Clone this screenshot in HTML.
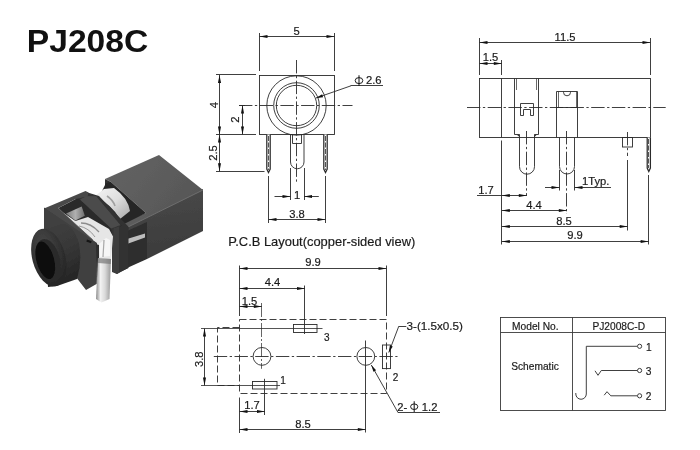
<!DOCTYPE html>
<html><head><meta charset="utf-8"><title>PJ208C</title>
<style>
html,body{margin:0;padding:0;background:#fff;}
body{width:700px;height:450px;overflow:hidden;}
svg{display:block;filter:grayscale(1);}
svg text{font-family:"Liberation Sans",sans-serif;}
</style></head><body>
<svg width="700" height="450" viewBox="0 0 700 450">
<rect width="700" height="450" fill="#fff"/>
<defs>
<linearGradient id="gTop" x1="0" y1="0" x2="1" y2="0.6"><stop offset="0" stop-color="#646464"/><stop offset="1" stop-color="#565656"/></linearGradient>
<linearGradient id="gSide" x1="0" y1="0" x2="0.15" y2="1"><stop offset="0" stop-color="#4a4a4a"/><stop offset="1" stop-color="#393939"/></linearGradient>
<linearGradient id="gLeg" x1="0" y1="0" x2="1" y2="0"><stop offset="0" stop-color="#8a8a8a"/><stop offset="0.3" stop-color="#f2f2f2"/><stop offset="0.6" stop-color="#dadada"/><stop offset="1" stop-color="#9a9a9a"/></linearGradient>
<linearGradient id="gSpring" x1="0" y1="0" x2="1" y2="1"><stop offset="0" stop-color="#f4f4f4"/><stop offset="0.5" stop-color="#dedede"/><stop offset="1" stop-color="#a8a8a8"/></linearGradient>
<linearGradient id="gWall" x1="0" y1="0" x2="1" y2="0"><stop offset="0" stop-color="#7a7a7a"/><stop offset="0.5" stop-color="#b0b0b0"/><stop offset="1" stop-color="#6e6e6e"/></linearGradient>
<linearGradient id="gBody" x1="0" y1="0" x2="0.3" y2="1"><stop offset="0" stop-color="#404040"/><stop offset="0.5" stop-color="#383838"/><stop offset="1" stop-color="#262626"/></linearGradient>
<radialGradient id="gBarrel" cx="0.45" cy="0.3" r="0.8"><stop offset="0" stop-color="#4a4a4a"/><stop offset="1" stop-color="#1f1f1f"/></radialGradient>
<filter id="fb" x="-5%" y="-5%" width="110%" height="110%"><feGaussianBlur stdDeviation="0.5"/></filter>
</defs>
<g filter="url(#fb)">
<!-- back block side face -->
<polygon points="112,230 203,189 203,231 147,259 147,246 128,255 128,268 117,274 112,272" fill="url(#gSide)"/>
<!-- slot interior -->
<polygon points="127,231 147,222 147,259 127,268" fill="#2d2d2d"/>
<polygon points="127,239 145,233.5 145,237.5 127,244" fill="#bdbdbd"/>
<!-- back block top face -->
<polygon points="105,179 159,155 203,190 128,227 122,222 146,213 111,182" fill="url(#gTop)"/>
<path d="M203,190 L128,227" stroke="#707070" stroke-width="0.9" fill="none"/>
<!-- block left face strip -->
<polygon points="105,179 111,182 111,190 105,187" fill="#333"/>
<!-- cutout dark -->
<polygon points="106,183 111,182 146,213 124,224 98,199" fill="#262626"/>
<!-- spring -->
<path d="M95,196 L104,189 L114,188 Q128,198 130,211 L120,219 Q112,205 95,196 Z" fill="url(#gSpring)"/>
<path d="M107,196 Q113,200 115,206" fill="none" stroke="#a0a0a0" stroke-width="1.6"/>
<!-- frame window interior -->
<polygon points="75,198 86,192 99,196 128.5,227 128,232 112,236" fill="#343434"/>
<polygon points="58.3,208 76.2,198.7 80,199.4 111.2,228 112,234 92,240" fill="#2b2b2b"/>
<polygon points="66.1,213.4 81.7,206.4 84.8,215.8 75.4,220.4" fill="url(#gWall)"/>
<polygon points="63,212.5 75.4,221 88,217 109,229 113,236.6 111,259.7 98.7,259.7 97,243.7 91.6,238.4" fill="#e6e6e6"/>
<path d="M81,223 Q91,223 99,232" fill="none" stroke="#8c8c8c" stroke-width="1.3"/>
<path d="M79,226 Q89,228 95,237" fill="none" stroke="#9a9a9a" stroke-width="1"/>
<polygon points="99,244 106,238 110,240 110,256 100,257" fill="#f6f6f6"/>
<path d="M104,240 L103,257" stroke="#a8a8a8" stroke-width="1.2" fill="none"/>
<!-- frame top-left bar -->
<polygon points="44,208.5 85.5,190.9 88.5,192.5 87.5,196.5 76.2,198.7 58.3,208 92,239.5 97,243.7 96,246" fill="#4a4a4a"/>
<!-- frame right diagonal bar -->
<polygon points="80,199.4 86.3,196.3 96.4,196.3 120.5,225 111.2,228.5" fill="#4c4c4c"/>
<polygon points="96.4,196.3 99,197.5 124.5,223 120.5,225" fill="#333"/>
<!-- front face -->
<polygon points="44,207.5 97,243 96.5,284 86,290 76,277 60,250 44,234" fill="#404040"/>
<polygon points="96,244 99,245 99,283 96.5,284" fill="#2e2e2e"/>
<rect x="87" y="239.5" width="5" height="2.2" fill="#161616" transform="rotate(20 87 239.5)"/>
<!-- middle vertical bar -->
<polygon points="113.5,228.5 119.3,226.5 119.3,272.5 117,274 113.5,272" fill="#3e3e3e"/>
<polygon points="119,227 124,222.5 128.5,227 128.5,268 119,272.5" fill="#303030"/>
<!-- leg -->
<polygon points="98,258 111,259 109.5,299 101.5,302.5 96,299" fill="url(#gLeg)"/>
<polygon points="98,258 111,259 110.8,264 98,263" fill="#777" opacity="0.7"/>
<!-- barrel body -->
<path d="M44,229.5 L63,223.5 Q74,226 79,243 Q82.5,262 77,279 L57,286 L48,287 Z" fill="url(#gBody)"/>
<!-- barrel ring -->
<ellipse cx="48.8" cy="257.5" rx="16.5" ry="29.5" fill="url(#gBarrel)" transform="rotate(-15 48.8 257.5)"/>
<ellipse cx="48" cy="259.5" rx="11.8" ry="21" fill="#2c2c2c" transform="rotate(-15 48 259.5)"/>
<ellipse cx="45.3" cy="260.3" rx="8.8" ry="19.3" fill="#0e0e0e" transform="rotate(-15 45.3 260.3)"/>
</g>

<text x="26.8" y="52.3" font-size="31.6" text-anchor="start" font-weight="bold" fill="#111" stroke="#111" stroke-width="0" textLength="121.5" lengthAdjust="spacingAndGlyphs">PJ208C</text>
<rect x="259.5" y="75.5" width="75.0" height="59.0" fill="none" stroke="#2a2a2a" stroke-width="0.9"/>
<circle cx="296.5" cy="105.5" r="29.7" fill="none" stroke="#2a2a2a" stroke-width="0.9"/>
<circle cx="296.5" cy="105.5" r="22.8" fill="none" stroke="#2a2a2a" stroke-width="0.9"/>
<circle cx="296.5" cy="105.5" r="20.2" fill="none" stroke="#2a2a2a" stroke-width="0.9"/>
<line x1="239" y1="105.5" x2="352.5" y2="105.5" stroke="#2a2a2a" stroke-width="0.9" stroke-dasharray="13.4 2.5 2.3 2.5"/>
<line x1="296.5" y1="60" x2="296.5" y2="182.5" stroke="#2a2a2a" stroke-width="0.9" stroke-dasharray="13.4 2.5 2.3 2.5"/>
<line x1="259.5" y1="33" x2="259.5" y2="71" stroke="#2a2a2a" stroke-width="0.9"/>
<line x1="334.5" y1="33" x2="334.5" y2="71" stroke="#2a2a2a" stroke-width="0.9"/>
<line x1="259.5" y1="36.5" x2="334.5" y2="36.5" stroke="#2a2a2a" stroke-width="0.9"/>
<polygon points="259.50,36.50 267.50,34.95 267.50,38.05" fill="#111"/>
<polygon points="334.50,36.50 326.50,38.05 326.50,34.95" fill="#111"/>
<text x="296.5" y="34.5" font-size="11.2" text-anchor="middle" font-weight="normal" fill="#1a1a1a" stroke="#1a1a1a" stroke-width="0.18">5</text>
<line x1="216" y1="74.5" x2="256" y2="74.5" stroke="#2a2a2a" stroke-width="0.9"/>
<line x1="216" y1="134.5" x2="256" y2="134.5" stroke="#2a2a2a" stroke-width="0.9"/>
<line x1="216" y1="171.5" x2="264.5" y2="171.5" stroke="#2a2a2a" stroke-width="0.9"/>
<line x1="219.5" y1="75" x2="219.5" y2="134.5" stroke="#2a2a2a" stroke-width="0.9"/>
<polygon points="219.50,75.00 221.05,83.00 217.95,83.00" fill="#111"/>
<polygon points="219.50,134.50 217.95,126.50 221.05,126.50" fill="#111"/>
<line x1="219.5" y1="134.5" x2="219.5" y2="171.3" stroke="#2a2a2a" stroke-width="0.9"/>
<polygon points="219.50,134.50 221.05,142.50 217.95,142.50" fill="#111"/>
<polygon points="219.50,171.30 217.95,163.30 221.05,163.30" fill="#111"/>
<text x="217.5" y="105" font-size="11.2" text-anchor="middle" font-weight="normal" fill="#1a1a1a" stroke="#1a1a1a" stroke-width="0.18" transform="rotate(-90 217.5 105)">4</text>
<text x="217" y="153" font-size="11.2" text-anchor="middle" font-weight="normal" fill="#1a1a1a" stroke="#1a1a1a" stroke-width="0.18" transform="rotate(-90 217 153)">2.5</text>
<line x1="239" y1="105.5" x2="245" y2="105.5" stroke="#2a2a2a" stroke-width="0.9"/>
<line x1="242.5" y1="105.5" x2="242.5" y2="134.5" stroke="#2a2a2a" stroke-width="0.9"/>
<polygon points="242.50,105.50 244.05,113.50 240.95,113.50" fill="#111"/>
<polygon points="242.50,134.50 240.95,126.50 244.05,126.50" fill="#111"/>
<text x="238.5" y="119.5" font-size="11.2" text-anchor="middle" font-weight="normal" fill="#1a1a1a" stroke="#1a1a1a" stroke-width="0.18" transform="rotate(-90 238.5 119.5)">2</text>
<line x1="316" y1="98" x2="351" y2="85.8" stroke="#2a2a2a" stroke-width="0.9"/>
<line x1="350.7" y1="85.5" x2="383" y2="85.5" stroke="#2a2a2a" stroke-width="0.9"/>
<polygon points="316.00,98.00 322.11,94.26 323.12,97.19" fill="#111"/>
<ellipse cx="359" cy="80.6" rx="3.8" ry="3.0" fill="none" stroke="#1a1a1a" stroke-width="1"/>
<line x1="359" y1="75.19999999999999" x2="359" y2="86.0" stroke="#1a1a1a" stroke-width="1.05"/>
<text x="366" y="84.4" font-size="11.2" text-anchor="start" font-weight="normal" fill="#1a1a1a" stroke="#1a1a1a" stroke-width="0.18">2.6</text>
<path d="M266.8,134.5 V169 L268.5,172.5 L270.2,169 V134.5" fill="#fff" stroke="#2a2a2a" stroke-width="1.25"/>
<line x1="268.5" y1="136" x2="268.5" y2="170" stroke="#2a2a2a" stroke-width="0.8" stroke-dasharray="5 1.5"/>
<line x1="268.5" y1="176" x2="268.5" y2="223" stroke="#2a2a2a" stroke-width="0.9"/>
<path d="M323.8,134.5 V169 L325.5,172.5 L327.2,169 V134.5" fill="#fff" stroke="#2a2a2a" stroke-width="1.25"/>
<line x1="325.5" y1="136" x2="325.5" y2="170" stroke="#2a2a2a" stroke-width="0.8" stroke-dasharray="5 1.5"/>
<line x1="325.5" y1="176" x2="325.5" y2="223" stroke="#2a2a2a" stroke-width="0.9"/>
<path d="M290.5,134.5 V162 A6.75,6.75 0 0 0 304,162 V134.5" fill="none" stroke="#2a2a2a" stroke-width="0.9"/>
<path d="M292.5,134.5 V143.5 H301.5 V134.5" fill="none" stroke="#2a2a2a" stroke-width="0.9"/>
<line x1="290.5" y1="168" x2="290.5" y2="200" stroke="#2a2a2a" stroke-width="0.9"/>
<line x1="304.5" y1="168" x2="304.5" y2="200" stroke="#2a2a2a" stroke-width="0.9"/>
<line x1="274.5" y1="196.5" x2="290.5" y2="196.5" stroke="#2a2a2a" stroke-width="0.9"/>
<line x1="304" y1="196.5" x2="318.8" y2="196.5" stroke="#2a2a2a" stroke-width="0.9"/>
<polygon points="290.50,196.50 282.50,198.05 282.50,194.95" fill="#111"/>
<polygon points="304.00,196.50 312.00,194.95 312.00,198.05" fill="#111"/>
<text x="297" y="198.5" font-size="11.2" text-anchor="middle" font-weight="normal" fill="#1a1a1a" stroke="#1a1a1a" stroke-width="0.18">1</text>
<line x1="268.5" y1="219.5" x2="325.5" y2="219.5" stroke="#2a2a2a" stroke-width="0.9"/>
<polygon points="268.50,219.50 276.50,217.95 276.50,221.05" fill="#111"/>
<polygon points="325.50,219.50 317.50,221.05 317.50,217.95" fill="#111"/>
<text x="297" y="217.5" font-size="11.2" text-anchor="middle" font-weight="normal" fill="#1a1a1a" stroke="#1a1a1a" stroke-width="0.18">3.8</text>
<rect x="479.5" y="78.5" width="171.0" height="59.0" fill="none" stroke="#2a2a2a" stroke-width="0.9"/>
<line x1="467" y1="107.5" x2="665.7" y2="107.5" stroke="#2a2a2a" stroke-width="0.9" stroke-dasharray="13.4 2.5 2.3 2.5"/>
<line x1="501.5" y1="78.5" x2="501.5" y2="137.5" stroke="#2a2a2a" stroke-width="0.9"/>
<line x1="479.5" y1="38" x2="479.5" y2="75" stroke="#2a2a2a" stroke-width="0.9"/>
<line x1="650.5" y1="38" x2="650.5" y2="75" stroke="#2a2a2a" stroke-width="0.9"/>
<line x1="479.5" y1="42.5" x2="650.5" y2="42.5" stroke="#2a2a2a" stroke-width="0.9"/>
<polygon points="479.50,42.50 487.50,40.95 487.50,44.05" fill="#111"/>
<polygon points="650.50,42.50 642.50,44.05 642.50,40.95" fill="#111"/>
<text x="565" y="40.5" font-size="11.2" text-anchor="middle" font-weight="normal" fill="#1a1a1a" stroke="#1a1a1a" stroke-width="0.18">11.5</text>
<line x1="501.5" y1="60" x2="501.5" y2="75" stroke="#2a2a2a" stroke-width="0.9"/>
<line x1="479.5" y1="63.5" x2="501.8" y2="63.5" stroke="#2a2a2a" stroke-width="0.9"/>
<polygon points="479.50,63.50 487.50,61.95 487.50,65.05" fill="#111"/>
<polygon points="501.80,63.50 493.80,65.05 493.80,61.95" fill="#111"/>
<text x="490.5" y="60.8" font-size="11.2" text-anchor="middle" font-weight="normal" fill="#1a1a1a" stroke="#1a1a1a" stroke-width="0.18">1.5</text>
<line x1="514.5" y1="78.5" x2="514.5" y2="134.5" stroke="#2a2a2a" stroke-width="0.9"/>
<line x1="538.5" y1="78.5" x2="538.5" y2="134.5" stroke="#2a2a2a" stroke-width="0.9"/>
<line x1="516.5" y1="78.5" x2="516.5" y2="90" stroke="#2a2a2a" stroke-width="0.7"/>
<line x1="536.5" y1="78.5" x2="536.5" y2="90" stroke="#2a2a2a" stroke-width="0.7"/>
<path d="M514.5,134.5 H519.5 V137.5 M538.5,134.5 H534.5 V137.5" fill="none" stroke="#2a2a2a" stroke-width="0.9"/>
<path d="M516.5,134.5 L519.5,137 V134.5 Z M537,134.5 L534.5,137 V134.5 Z" fill="#333"/>
<path d="M520.5,115.5 V103.5 H533.5 V115.5 H530.5 V109.5 H523.5 V115.5 Z" fill="none" stroke="#2a2a2a" stroke-width="0.9"/>
<path d="M556.5,137.5 V91.5 H577.5 V137.5" fill="none" stroke="#2a2a2a" stroke-width="0.9"/>
<line x1="558.5" y1="91.5" x2="558.5" y2="107.5" stroke="#2a2a2a" stroke-width="0.7"/>
<line x1="576.5" y1="91.5" x2="576.5" y2="107.5" stroke="#2a2a2a" stroke-width="0.7"/>
<line x1="556.5" y1="107.5" x2="577.5" y2="107.5" stroke="#2a2a2a" stroke-width="0.9"/>
<path d="M563.5,91.5 V92.3 A3.5,3.5 0 0 0 570.5,92.3 V91.5" fill="none" stroke="#2a2a2a" stroke-width="0.9"/>
<path d="M519.5,137.5 V166.7 A7.5,7.5 0 0 0 534.5,166.7 V137.5" fill="none" stroke="#2a2a2a" stroke-width="0.9"/>
<path d="M559.5,137.5 V166.5 A7.5,7.5 0 0 0 574.5,166.5 V137.5" fill="none" stroke="#2a2a2a" stroke-width="0.9"/>
<rect x="622.5" y="137.5" width="10" height="9.5" fill="none" stroke="#2a2a2a" stroke-width="0.9"/>
<path d="M647.2,137.5 V168 L648.8,171.5 L650.4,168 V137.5" fill="#fff" stroke="#2a2a2a" stroke-width="1.25"/>
<line x1="648.5" y1="139" x2="648.5" y2="168" stroke="#2a2a2a" stroke-width="0.8" stroke-dasharray="5 1.5"/>
<line x1="526.5" y1="131" x2="526.5" y2="196" stroke="#2a2a2a" stroke-width="0.9" stroke-dasharray="13.4 2.5 2.3 2.5"/>
<line x1="566.5" y1="131" x2="566.5" y2="214" stroke="#2a2a2a" stroke-width="0.9" stroke-dasharray="13.4 2.5 2.3 2.5"/>
<line x1="627.5" y1="132" x2="627.5" y2="156" stroke="#2a2a2a" stroke-width="0.9" stroke-dasharray="13.4 2.5 2.3 2.5"/>
<line x1="627.5" y1="160" x2="627.5" y2="230.5" stroke="#2a2a2a" stroke-width="0.9"/>
<line x1="648.5" y1="175" x2="648.5" y2="244.5" stroke="#2a2a2a" stroke-width="0.9"/>
<line x1="501.5" y1="140.5" x2="501.5" y2="244.5" stroke="#2a2a2a" stroke-width="0.9"/>
<line x1="559.5" y1="170" x2="559.5" y2="190.5" stroke="#2a2a2a" stroke-width="0.9"/>
<line x1="574.5" y1="170" x2="574.5" y2="190.5" stroke="#2a2a2a" stroke-width="0.9"/>
<line x1="545" y1="187.5" x2="559.5" y2="187.5" stroke="#2a2a2a" stroke-width="0.9"/>
<line x1="574.5" y1="187.5" x2="611" y2="187.5" stroke="#2a2a2a" stroke-width="0.9"/>
<polygon points="559.50,187.50 551.50,189.05 551.50,185.95" fill="#111"/>
<polygon points="574.50,187.50 582.50,185.95 582.50,189.05" fill="#111"/>
<text x="582" y="185" font-size="11.2" text-anchor="start" font-weight="normal" fill="#1a1a1a" stroke="#1a1a1a" stroke-width="0.18">1Typ.</text>
<line x1="477" y1="195.5" x2="526.8" y2="195.5" stroke="#2a2a2a" stroke-width="0.9"/>
<polygon points="501.80,195.50 509.80,193.95 509.80,197.05" fill="#111"/>
<polygon points="526.80,195.50 518.80,197.05 518.80,193.95" fill="#111"/>
<text x="486" y="193.5" font-size="11.2" text-anchor="middle" font-weight="normal" fill="#1a1a1a" stroke="#1a1a1a" stroke-width="0.18">1.7</text>
<line x1="501.8" y1="210.5" x2="566.8" y2="210.5" stroke="#2a2a2a" stroke-width="0.9"/>
<polygon points="501.80,210.50 509.80,208.95 509.80,212.05" fill="#111"/>
<polygon points="566.80,210.50 558.80,212.05 558.80,208.95" fill="#111"/>
<text x="534" y="208.6" font-size="11.2" text-anchor="middle" font-weight="normal" fill="#1a1a1a" stroke="#1a1a1a" stroke-width="0.18">4.4</text>
<line x1="501.8" y1="226.5" x2="627.7" y2="226.5" stroke="#2a2a2a" stroke-width="0.9"/>
<polygon points="501.80,226.50 509.80,224.95 509.80,228.05" fill="#111"/>
<polygon points="627.70,226.50 619.70,228.05 619.70,224.95" fill="#111"/>
<text x="564" y="224.5" font-size="11.2" text-anchor="middle" font-weight="normal" fill="#1a1a1a" stroke="#1a1a1a" stroke-width="0.18">8.5</text>
<line x1="501.8" y1="241.5" x2="648.6" y2="241.5" stroke="#2a2a2a" stroke-width="0.9"/>
<polygon points="501.80,241.50 509.80,239.95 509.80,243.05" fill="#111"/>
<polygon points="648.60,241.50 640.60,243.05 640.60,239.95" fill="#111"/>
<text x="575" y="238.8" font-size="11.2" text-anchor="middle" font-weight="normal" fill="#1a1a1a" stroke="#1a1a1a" stroke-width="0.18">9.9</text>
<text x="228.3" y="245.7" font-size="12.8" text-anchor="start" font-weight="normal" fill="#1a1a1a" stroke="#1a1a1a" stroke-width="0.18" textLength="187" lengthAdjust="spacingAndGlyphs">P.C.B Layout(copper-sided view)</text>
<line x1="239.5" y1="265.5" x2="239.5" y2="316" stroke="#2a2a2a" stroke-width="0.9"/>
<line x1="386.5" y1="265.5" x2="386.5" y2="316" stroke="#2a2a2a" stroke-width="0.9"/>
<line x1="239.5" y1="268.5" x2="386.5" y2="268.5" stroke="#2a2a2a" stroke-width="0.9"/>
<polygon points="239.50,268.50 247.50,266.95 247.50,270.05" fill="#111"/>
<polygon points="386.50,268.50 378.50,270.05 378.50,266.95" fill="#111"/>
<text x="313" y="266.4" font-size="11.2" text-anchor="middle" font-weight="normal" fill="#1a1a1a" stroke="#1a1a1a" stroke-width="0.18">9.9</text>
<line x1="304.5" y1="285.5" x2="304.5" y2="334" stroke="#2a2a2a" stroke-width="0.9"/>
<line x1="239.5" y1="288.5" x2="305" y2="288.5" stroke="#2a2a2a" stroke-width="0.9"/>
<polygon points="239.50,288.50 247.50,286.95 247.50,290.05" fill="#111"/>
<polygon points="305.00,288.50 297.00,290.05 297.00,286.95" fill="#111"/>
<text x="272.5" y="286" font-size="11.2" text-anchor="middle" font-weight="normal" fill="#1a1a1a" stroke="#1a1a1a" stroke-width="0.18">4.4</text>
<line x1="261.5" y1="303" x2="261.5" y2="368.8" stroke="#555" stroke-width="0.9" stroke-dasharray="14 2 2 2"/>
<line x1="239.5" y1="306.5" x2="261.8" y2="306.5" stroke="#2a2a2a" stroke-width="0.9"/>
<polygon points="239.50,306.50 247.50,304.95 247.50,308.05" fill="#111"/>
<polygon points="261.80,306.50 253.80,308.05 253.80,304.95" fill="#111"/>
<text x="249.5" y="304.5" font-size="11.2" text-anchor="middle" font-weight="normal" fill="#1a1a1a" stroke="#1a1a1a" stroke-width="0.18">1.5</text>
<path d="M239.5,319.5 H386.5 V393.5 H239.5 Z" fill="none" stroke="#2a2a2a" stroke-width="0.9" stroke-dasharray="7 3"/>
<path d="M239.5,327.5 H217.5 V385.5 H239.5" fill="none" stroke="#2a2a2a" stroke-width="0.9" stroke-dasharray="7 3"/>
<rect x="293.5" y="324.5" width="23.5" height="8" fill="none" stroke="#2a2a2a" stroke-width="0.9"/>
<rect x="252.5" y="381.5" width="24.5" height="7.5" fill="none" stroke="#2a2a2a" stroke-width="0.9"/>
<rect x="382.5" y="345" width="8" height="23.6" fill="none" stroke="#2a2a2a" stroke-width="0.9"/>
<line x1="201" y1="328.5" x2="322.5" y2="328.5" stroke="#2a2a2a" stroke-width="0.8"/>
<line x1="201" y1="385.5" x2="280" y2="385.5" stroke="#2a2a2a" stroke-width="0.8"/>
<line x1="204.5" y1="328.5" x2="204.5" y2="385.5" stroke="#2a2a2a" stroke-width="0.9"/>
<polygon points="204.50,328.50 206.05,336.50 202.95,336.50" fill="#111"/>
<polygon points="204.50,385.50 202.95,377.50 206.05,377.50" fill="#111"/>
<text x="203.3" y="359.3" font-size="11.2" text-anchor="middle" font-weight="normal" fill="#1a1a1a" stroke="#1a1a1a" stroke-width="0.18" transform="rotate(-90 203.3 359.3)">3.8</text>
<circle cx="262" cy="356.4" r="8.9" fill="none" stroke="#2a2a2a" stroke-width="0.9"/>
<circle cx="365.8" cy="356.4" r="8.9" fill="none" stroke="#2a2a2a" stroke-width="0.9"/>
<line x1="213.8" y1="356.5" x2="397.5" y2="356.5" stroke="#2a2a2a" stroke-width="0.9" stroke-dasharray="13.4 2.5 2.3 2.5"/>
<line x1="365.5" y1="340.5" x2="365.5" y2="432.5" stroke="#2a2a2a" stroke-width="0.9"/>
<line x1="264.5" y1="378.8" x2="264.5" y2="415" stroke="#2a2a2a" stroke-width="0.9"/>
<line x1="239.5" y1="397.5" x2="239.5" y2="433" stroke="#2a2a2a" stroke-width="0.9"/>
<line x1="239.5" y1="411.5" x2="265" y2="411.5" stroke="#2a2a2a" stroke-width="0.9"/>
<polygon points="239.50,411.50 247.50,409.95 247.50,413.05" fill="#111"/>
<polygon points="265.00,411.50 257.00,413.05 257.00,409.95" fill="#111"/>
<text x="252" y="409" font-size="11.2" text-anchor="middle" font-weight="normal" fill="#1a1a1a" stroke="#1a1a1a" stroke-width="0.18">1.7</text>
<line x1="239.5" y1="429.5" x2="365.8" y2="429.5" stroke="#2a2a2a" stroke-width="0.9"/>
<polygon points="239.50,429.50 247.50,427.95 247.50,431.05" fill="#111"/>
<polygon points="365.80,429.50 357.80,431.05 357.80,427.95" fill="#111"/>
<text x="303" y="428.2" font-size="11.2" text-anchor="middle" font-weight="normal" fill="#1a1a1a" stroke="#1a1a1a" stroke-width="0.18">8.5</text>
<text x="326.8" y="340.5" font-size="10" text-anchor="middle" font-weight="normal" fill="#1a1a1a" stroke="#1a1a1a" stroke-width="0.18">3</text>
<text x="283" y="384.3" font-size="10" text-anchor="middle" font-weight="normal" fill="#1a1a1a" stroke="#1a1a1a" stroke-width="0.18">1</text>
<text x="395.6" y="380.6" font-size="10" text-anchor="middle" font-weight="normal" fill="#1a1a1a" stroke="#1a1a1a" stroke-width="0.18">2</text>
<line x1="406.3" y1="326.5" x2="398.8" y2="326.5" stroke="#2a2a2a" stroke-width="0.9"/>
<line x1="398.8" y1="326.2" x2="388.8" y2="352.5" stroke="#2a2a2a" stroke-width="0.9"/>
<polygon points="388.80,352.50 389.86,345.41 392.76,346.52" fill="#111"/>
<text x="406.5" y="329.9" font-size="11" text-anchor="start" font-weight="normal" fill="#1a1a1a" stroke="#1a1a1a" stroke-width="0.18" textLength="56.5" lengthAdjust="spacingAndGlyphs">3-(1.5x0.5)</text>
<line x1="371.3" y1="365" x2="398" y2="412.5" stroke="#2a2a2a" stroke-width="0.9"/>
<line x1="397.9" y1="412.5" x2="440" y2="412.5" stroke="#2a2a2a" stroke-width="0.9"/>
<polygon points="371.30,365.00 376.10,370.33 373.40,371.86" fill="#111"/>
<text x="397.3" y="410.7" font-size="11.2" text-anchor="start" font-weight="normal" fill="#1a1a1a" stroke="#1a1a1a" stroke-width="0.18">2-</text>
<ellipse cx="414.2" cy="406.7" rx="3.6" ry="2.8" fill="none" stroke="#1a1a1a" stroke-width="1"/>
<line x1="414.2" y1="401.3" x2="414.2" y2="412.09999999999997" stroke="#1a1a1a" stroke-width="1.05"/>
<text x="421.8" y="410.7" font-size="11.2" text-anchor="start" font-weight="normal" fill="#1a1a1a" stroke="#1a1a1a" stroke-width="0.18">1.2</text>
<rect x="500.5" y="317.5" width="165" height="93" fill="none" stroke="#3a3a3a" stroke-width="0.9"/>
<line x1="500.5" y1="332.5" x2="665.5" y2="332.5" stroke="#3a3a3a" stroke-width="0.9"/>
<line x1="572.5" y1="317.5" x2="572.5" y2="410.5" stroke="#3a3a3a" stroke-width="0.9"/>
<text x="535.3" y="330" font-size="10.2" text-anchor="middle" font-weight="normal" fill="#1a1a1a" stroke="#1a1a1a" stroke-width="0.18">Model No.</text>
<text x="618.8" y="330" font-size="10.2" text-anchor="middle" font-weight="normal" fill="#1a1a1a" stroke="#1a1a1a" stroke-width="0.18">PJ2008C-D</text>
<text x="535" y="370" font-size="10.2" text-anchor="middle" font-weight="normal" fill="#1a1a1a" stroke="#1a1a1a" stroke-width="0.18">Schematic</text>
<path d="M637.5,346.3 H586.3 V394 A5.25,5.25 0 0 1 575.8,394 V393" fill="none" stroke="#2a2a2a" stroke-width="0.9"/>
<path d="M637.5,370.5 H601.3 L598,375.3 L595,370.8" fill="none" stroke="#2a2a2a" stroke-width="0.9"/>
<path d="M637.5,395.8 H610.8 L607,391.7 L604.2,395.2" fill="none" stroke="#2a2a2a" stroke-width="0.9"/>
<circle cx="639.6" cy="346.3" r="2.1" fill="#fff" stroke="#2a2a2a" stroke-width="0.9"/>
<circle cx="639.6" cy="370.5" r="2.1" fill="#fff" stroke="#2a2a2a" stroke-width="0.9"/>
<circle cx="639.6" cy="395.8" r="2.1" fill="#fff" stroke="#2a2a2a" stroke-width="0.9"/>
<text x="648.8" y="350.8" font-size="10.2" text-anchor="middle" font-weight="normal" fill="#1a1a1a" stroke="#1a1a1a" stroke-width="0.18">1</text>
<text x="648.6" y="374.7" font-size="10.2" text-anchor="middle" font-weight="normal" fill="#1a1a1a" stroke="#1a1a1a" stroke-width="0.18">3</text>
<text x="648.6" y="400" font-size="10.2" text-anchor="middle" font-weight="normal" fill="#1a1a1a" stroke="#1a1a1a" stroke-width="0.18">2</text>
</svg>
</body></html>
